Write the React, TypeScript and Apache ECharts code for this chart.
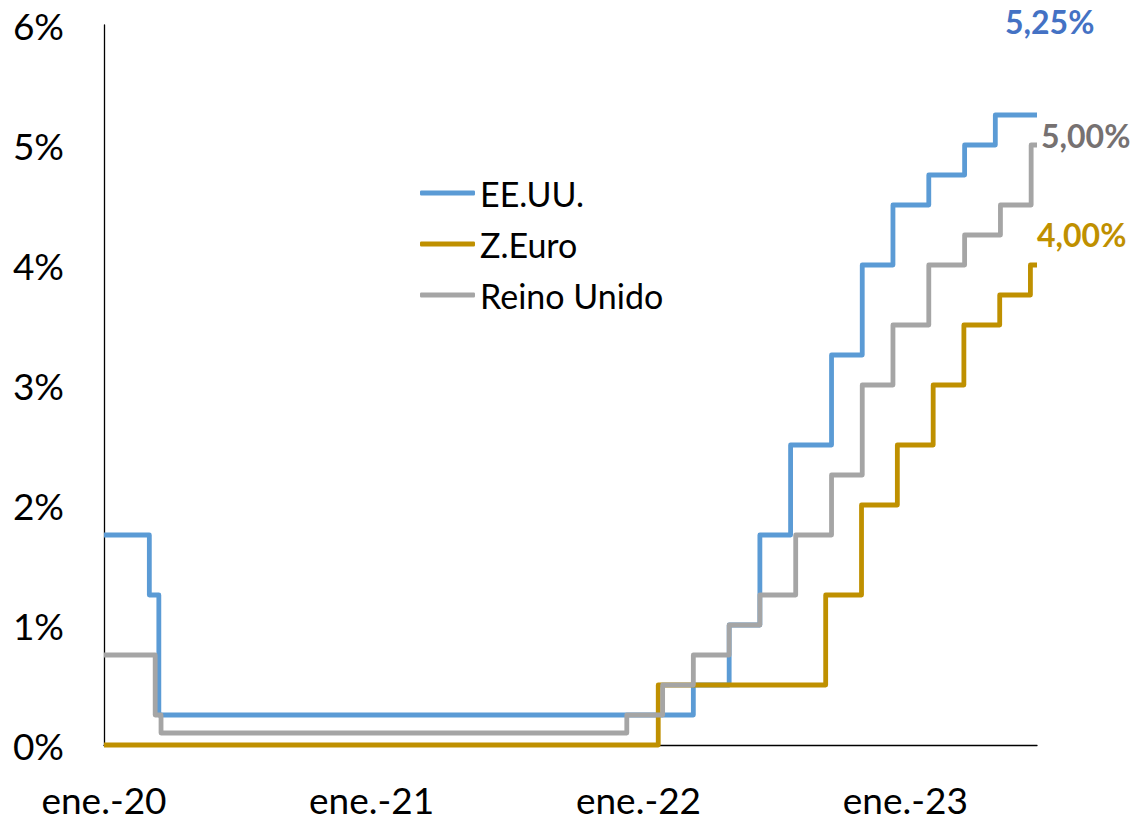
import React, { useEffect, useRef } from "react";
import * as echarts from "echarts";

// Policy rates (%), value effective from each date
const usRates: [string, number][] = [
  ["2020-01-01", 1.75],
  ["2020-03-03", 1.25],
  ["2020-03-16", 0.25],
  ["2022-03-17", 0.5],
  ["2022-05-05", 1.0],
  ["2022-06-16", 1.75],
  ["2022-07-28", 2.5],
  ["2022-09-22", 3.25],
  ["2022-11-03", 4.0],
  ["2022-12-15", 4.5],
  ["2023-02-02", 4.75],
  ["2023-03-23", 5.0],
  ["2023-05-04", 5.25],
  ["2023-06-30", 5.25],
];

const euroRates: [string, number][] = [
  ["2020-01-01", 0.0],
  ["2022-01-28", 0.5],
  ["2022-09-14", 1.25],
  ["2022-11-02", 2.0],
  ["2022-12-21", 2.5],
  ["2023-02-08", 3.0],
  ["2023-03-22", 3.5],
  ["2023-05-10", 3.75],
  ["2023-06-21", 4.0],
  ["2023-06-30", 4.0],
];

const ukRates: [string, number][] = [
  ["2020-01-01", 0.75],
  ["2020-03-11", 0.25],
  ["2020-03-19", 0.1],
  ["2021-12-16", 0.25],
  ["2022-02-03", 0.5],
  ["2022-03-17", 0.75],
  ["2022-05-05", 1.0],
  ["2022-06-16", 1.25],
  ["2022-08-04", 1.75],
  ["2022-09-22", 2.25],
  ["2022-11-03", 3.0],
  ["2022-12-15", 3.5],
  ["2023-02-02", 4.0],
  ["2023-03-23", 4.25],
  ["2023-05-11", 4.5],
  ["2023-06-22", 5.0],
  ["2023-06-30", 5.0],
];

const seriesNames = ["EE.UU.", "Z.Euro", "Reino Unido"];
const endLabels = ["5,25%", "4,00%", "5,00%"];
const xTickDates = ["2020-01-01", "2021-01-01", "2022-01-01", "2023-01-01"];
const xTickLabels = ["ene.-20", "ene.-21", "ene.-22", "ene.-23"];
const yTicks = [0, 1, 2, 3, 4, 5, 6];
const xStart = "2020-01-01";
const xEnd = "2023-06-30";

const FONT = "Lato";
const lineColors = ["#5B9BD5", "#BF9000", "#A5A5A5"];
const labelColors = ["#4472C4", "#BF9000", "#767171"];
const labelOffsets: [number, number][] = [
  [-40, -94],
  [-8, -31],
  [-4, -10],
];

const toPts = (arr: [string, number][]) => arr.map(([d, v]) => [Date.parse(d), v]);

export default function App() {
  const ref = useRef<HTMLDivElement>(null);
  useEffect(() => {
    if (!ref.current) return;
    const chart = echarts.init(ref.current, undefined, { renderer: "svg" });
    const datasets = [usRates, euroRates, ukRates];
    const tickVals = xTickDates.map((d) => Date.parse(d));
    chart.setOption({
      animation: false,
      backgroundColor: "#ffffff",
      grid: { left: 104, right: 98, top: 25, bottom: 74, containLabel: false },
      legend: {
        data: seriesNames,
        orient: "vertical",
        left: 415,
        top: 168,
        itemWidth: 55,
        itemHeight: 5,
        itemGap: 11,
        icon: "roundRect",
        textStyle: { fontFamily: FONT, fontSize: 34, color: "#000", lineHeight: 40 },
      },
      xAxis: {
        type: "value",
        min: Date.parse(xStart),
        max: Date.parse(xEnd),
        axisLine: { show: true, lineStyle: { color: "#000", width: 1.3 } },
        axisTick: { show: false },
        splitLine: { show: false },
        axisLabel: {
          customValues: tickVals,
          margin: 39,
          fontFamily: FONT,
          fontSize: 37,
          lineHeight: 30,
          color: "#000",
          formatter: (v: number) => {
            const i = tickVals.indexOf(v);
            return i >= 0 ? xTickLabels[i] : "";
          },
        },
      },
      yAxis: {
        type: "value",
        min: yTicks[0],
        max: yTicks[yTicks.length - 1],
        interval: 1,
        axisLine: { show: true, lineStyle: { color: "#000", width: 1.3 } },
        axisTick: { show: false },
        splitLine: { show: false },
        axisLabel: {
          margin: 40,
          fontFamily: FONT,
          fontSize: 37,
          color: "#000",
          formatter: (v: number) => `${v}%`,
        },
      },
      series: datasets.map((d, i) => ({
        name: seriesNames[i],
        type: "line",
        step: "end",
        data: toPts(d),
        showSymbol: false,
        symbol: "none",
        clip: false,
        color: lineColors[i],
        lineStyle: { color: lineColors[i], width: 4.8, join: "round" },
        endLabel: {
          show: true,
          formatter: () => endLabels[i],
          offset: labelOffsets[i],
          fontFamily: FONT,
          fontWeight: "bold",
          fontSize: 32,
          color: labelColors[i],
        },
      })),
    });
    return () => chart.dispose();
  }, []);
  return (
    <div
      ref={ref}
      style={{ position: "absolute", left: 0, top: 0, width: 1135, height: 819 }}
    />
  );
}
